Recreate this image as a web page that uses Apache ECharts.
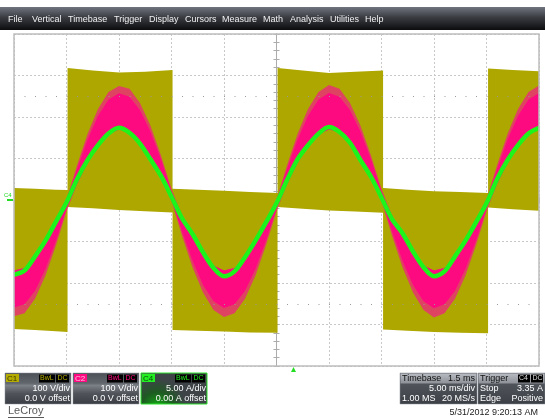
<!DOCTYPE html>
<html><head><meta charset="utf-8">
<script src="https://cdn.jsdelivr.net/npm/echarts@6/dist/echarts.min.js"></script>
<style>html,body{margin:0;padding:0;background:#fff}#c{width:545px;height:419px}</style>
</head><body><div id="c"></div>
<script>
// ---- data (time in ms relative to screen centre) ----
const timeMs = [-25,-24,-23,-22,-21,-20,-19,-18,-17,-16,-15,-14,-13,-12,-11,-10,-9,-8,-7,-6,-5,-4,-3,-2,-1,0,1,2,3,4,5,6,7,8,9,10,11,12,13,14,15,16,17,18,19,20,21,22,23,24,25];
// C4 current (A)
const c4Current = [-9.0,-8.5,-6.8,-4.9,-2.6,-0.3,2.5,4.8,6.6,8.0,8.7,8.1,6.8,4.9,2.9,0.4,-2.2,-4.1,-6.3,-8.2,-9.2,-8.6,-6.9,-4.9,-2.7,-0.4,2.4,4.9,6.6,8.0,8.8,8.2,6.9,4.8,2.8,0.3,-2.3,-4.0,-6.2,-8.1,-9.2,-8.6,-6.8,-4.9,-2.7,-0.4,2.5,4.8,6.6,8.0,8.7];
// C2 voltage envelope (V): outer ripple edge and solid core
const c2Upper = [-170,-164,-140,-102,-54,2,84,159,219,260,275,268,234,179,107,27,-38,-89,-130,-158,-170,-164,-140,-102,-54,2,84,159,219,260,277,268,234,179,107,27,-38,-89,-130,-158,-170,-164,-140,-102,-54,2,84,159,219,260,276];
const c2Lower = [-280,-273,-238,-182,-109,-28,38,89,130,158,170,164,140,103,54,-2,-86,-162,-223,-265,-282,-273,-238,-182,-109,-28,38,89,130,158,170,164,140,103,54,-2,-86,-162,-223,-265,-283,-273,-238,-182,-109,-28,38,89,130,158,170];
const c2CoreUpper = [-170,-164,-140,-102,-54,2,75,146,203,242,257,249,217,165,98,22,-38,-89,-130,-158,-170,-164,-140,-102,-54,2,75,146,203,242,258,249,217,165,98,22,-38,-89,-130,-158,-170,-164,-140,-102,-54,2,75,146,203,242,258];
const c2CoreLower = [-259,-251,-219,-166,-98,-22,38,89,130,158,170,164,140,103,54,-2,-76,-147,-205,-244,-260,-251,-219,-166,-98,-22,38,89,130,158,170,164,140,103,54,-2,-76,-147,-205,-244,-261,-251,-219,-166,-98,-22,38,89,130,158,170];
// C1 PWM voltage envelope (V)
const c1Time  = [-25,-23,-21,-19.9,-19.9,-17.5,-15,-12.5,-9.9,-9.9,-7.5,-5,-2.5,0.1,0.1,2.5,5,7.5,10.15,10.15,12.5,15,17.5,20.15,20.15,22.5,25];
const c1Upper = [29,27,25,24,318,312,307,309,313,27,25,22,19,17,318,312,306,309,312,29,25,21,19,17,317,313,310];
const c1Lower = [-311,-313,-316,-318,-17,-20,-24,-27,-30,-313,-315,-317,-319,-320,-17,-21,-25,-28,-31,-312,-315,-318,-320,-321,-18,-22,-26];
const menuItems = ['File','Vertical','Timebase','Trigger','Display','Cursors','Measure','Math','Analysis','Utilities','Help'];

const FONT = 'Liberation Sans, Arial, sans-serif';
const c1Data = c1Time.map((t,i)=>[t,c1Lower[i],c1Upper[i]]);
const c2Data = timeMs.map((t,i)=>[t,c2Lower[i],c2Upper[i]]);
const c2CoreData = timeMs.map((t,i)=>[t,c2CoreLower[i],c2CoreUpper[i]]);
const c4Data = timeMs.map((t,i)=>[t,c4Current[i]]);

function band(fill){
  return function(params, api){
    if (params.dataIndexInside !== 0) return;
    const n = params.dataInsideLength, top=[], bot=[];
    for (let i=0;i<n;i++){
      top.push(api.coord([api.value(0,i), api.value(2,i)]));
      bot.push(api.coord([api.value(0,i), api.value(1,i)]));
    }
    return {type:'polygon', shape:{points: top.concat(bot.reverse())}, style:{fill:fill}};
  };
}
function bandSeries(data, fill, z){
  return {type:'custom', data:data, renderItem:band(fill), clip:true, silent:true, z:z,
    encode:{x:0,y:[1,2]}, xAxisIndex:0, yAxisIndex:0};
}

const g = [];
function txt(x,y,s,opt){ g.push(Object.assign({type:'text', x:x, y:y, z:50, style:Object.assign({text:s, font:'9px '+FONT, fill:'#fff', textVerticalAlign:'middle'}, opt||{})})); }
function rect(x,y,w,h,style,z){ g.push({type:'rect', shape:{x:x,y:y,width:w,height:h}, style:style, z:z||40}); }

// menu bar
rect(0,7,545,23,{fill:new echarts.graphic.LinearGradient(0,0,0,1,[{offset:0,color:'#70747e'},{offset:0.45,color:'#3a3c42'},{offset:1,color:'#0c0c0e'}])});
const menuX = [8,32,68,114,149,185,222,263,290,330,365];
menuItems.forEach((m,i)=>txt(menuX[i],20,m,{font:'9px '+FONT, fill:'#f0f0f0'}));

// graticule frame
rect(14,34,525,332,{fill:'none', stroke:'#bdbdbd', lineWidth:1.5},60);

// channel descriptor boxes
const boxGrad = ()=>new echarts.graphic.LinearGradient(0,0,0,1,[{offset:0,color:'#4c5057'},{offset:0.33,color:'#61656c'},{offset:0.4,color:'#7c8087'},{offset:0.66,color:'#50545a'},{offset:1,color:'#3a3e44'}]);
function chanBox(x, lab, col, labText, l1, l2, isActive){
  if (isActive){
    rect(x,373,66,31,{fill:new echarts.graphic.RadialGradient(0.25,1.1,0.9,[{offset:0,color:'#12b012'},{offset:0.55,color:'#1e5a22'},{offset:1,color:'#3e4348'}]), stroke:'#2ce02c', lineWidth:1});
  } else {
    rect(x,373,66,31,{fill:boxGrad(), stroke:'#8a8e94', lineWidth:0.5});
  }
  rect(x+1,374,13,8,{fill:col},41);
  txt(x+2,378.5,lab,{font:'8px '+FONT, fill:labText});
  rect(x+34,374.5,16,8,{fill:'#000'},41);
  txt(x+35,378.5,'BwL',{font:'7px '+FONT, fill:col});
  rect(x+51,374.5,13,8,{fill:'#000'},41);
  txt(x+52.5,378.5,'DC',{font:'7px '+FONT, fill:col});
  txt(x+65,389,l1,{textAlign:'right'});
  txt(x+65,399,l2,{textAlign:'right'});
}
chanBox(5,'C1','#b4ac00','#3a3600','100 V/div','0.0 V offset',false);
chanBox(73,'C2','#ff0a80','#ffc0e0','100 V/div','0.0 V offset',false);
chanBox(141,'C4','#22ee22','#0a4a0a','5.00 A/div','0.00 A offset',true);

// LeCroy logo
txt(8,411,'LeCroy',{font:'11px '+FONT, fill:'#5a5a5a'});
g.push({type:'line', shape:{x1:8,y1:417.5,x2:44,y2:417.5}, style:{stroke:'#5a5a5a', lineWidth:1}, z:50});

// timebase & trigger boxes
function infoBox(x,w,head,headR,rows){
  rect(x,373,w,31,{fill:new echarts.graphic.LinearGradient(0,0,0,1,[{offset:0,color:'#5a5e65'},{offset:1,color:'#3c4046'}]), stroke:'#8a8e94', lineWidth:0.5});
  rect(x+0.5,373.5,w-1,10,{fill:new echarts.graphic.LinearGradient(0,0,0,1,[{offset:0,color:'#b8bcc2'},{offset:1,color:'#8d9197'}])},41);
  txt(x+2,378.5,head,{fill:'#111'});
  if (headR) txt(x+w-2,378.5,headR,{fill:'#111', textAlign:'right'});
  rows.forEach((r,i)=>{
    const y = 389 + i*10;
    if (r[0]) txt(x+2,y,r[0]);
    if (r[1]) txt(x+w-2,y,r[1],{textAlign:'right'});
  });
}
infoBox(400,77,'Timebase','1.5 ms',[['','5.00 ms/div'],['1.00 MS','20 MS/s']]);
infoBox(478,67,'Trigger',null,[['Stop','3.35 A'],['Edge','Positive']]);
rect(518,374.5,12,8,{fill:'#000'},42); txt(519,378.5,'C4',{font:'7px '+FONT, fill:'#ddd'});
rect(531,374.5,12,8,{fill:'#000'},42); txt(532.5,378.5,'DC',{font:'7px '+FONT, fill:'#ddd'});
txt(538,413,'5/31/2012 9:20:13 AM',{textAlign:'right', fill:'#222'});

// trigger-position marker and C4 ground marker
g.push({type:'polygon', shape:{points:[[291,372],[296,372],[293.5,367]]}, style:{fill:'#22dd22'}, z:50});
txt(4,195,'C4',{font:'6px '+FONT, fill:'#22dd22'});
g.push({type:'line', shape:{x1:7,y1:200,x2:13,y2:200}, style:{stroke:'#22dd22', lineWidth:2}, z:50});

const axLine = {color:'#acacac', width:1};
const chart = echarts.init(document.getElementById('c'), null, {renderer:'canvas'});
chart.setOption({
  animation:false,
  backgroundColor:'#fff',
  grid:{left:14, top:34, width:525, height:332, show:false},
  xAxis:[
    {type:'value', min:-25, max:25, interval:5, axisLine:{onZero:true, onZeroAxisIndex:0, lineStyle:axLine},
     axisTick:{show:true, length:3, lineStyle:axLine}, minorTick:{show:true, splitNumber:5, length:3, lineStyle:axLine},
     axisLabel:{show:false}, splitLine:{show:true, lineStyle:{color:'#c8c8c8', width:1, type:[2,2]}}},
    {type:'value', min:-25, max:25, interval:5, axisLine:{onZero:true, onZeroAxisIndex:0, lineStyle:axLine},
     axisTick:{show:true, length:3, lineStyle:axLine}, minorTick:{show:true, splitNumber:5, length:3, lineStyle:axLine},
     axisLabel:{show:false}, splitLine:{show:false}}
  ],
  yAxis:[
    {type:'value', min:-400, max:400, interval:100, axisLine:{show:true, onZero:true, onZeroAxisIndex:0, lineStyle:axLine},
     axisTick:{show:true, length:3, lineStyle:axLine}, minorTick:{show:true, splitNumber:5, length:3, lineStyle:axLine},
     axisLabel:{show:false}, splitLine:{show:true, lineStyle:{color:'#c8c8c8', width:1, type:[2,2]}}},
    {type:'value', min:-400, max:400, interval:100, axisLine:{show:true, onZero:true, onZeroAxisIndex:0, lineStyle:axLine},
     axisTick:{show:true, length:3, lineStyle:axLine}, minorTick:{show:true, splitNumber:5, length:3, lineStyle:axLine},
     axisLabel:{show:false}, splitLine:{show:false}},
    {type:'value', min:-20, max:20, interval:5, show:false, axisLine:{onZero:false}}
  ],
  series:[
    {type:'line', data:[], z:1, silent:true,
     markLine:{silent:true, symbol:'none', label:{show:false}, lineStyle:{color:'#9a9a9a', width:1, type:[1,9.5]},
       data:[{yAxis:250},{yAxis:-250}]}},
    bandSeries(c1Data,'#aea700',2),
    bandSeries(c2Data,'rgba(236,40,125,0.78)',3),
    bandSeries(c2CoreData,'#fe0a80',4),
    {type:'line', data:c4Data, xAxisIndex:0, yAxisIndex:2, z:5, showSymbol:false, smooth:0.3, silent:true,
     lineStyle:{color:'#1cf41c', width:4.5}}
  ],
  graphic:g
});
</script></body></html>
